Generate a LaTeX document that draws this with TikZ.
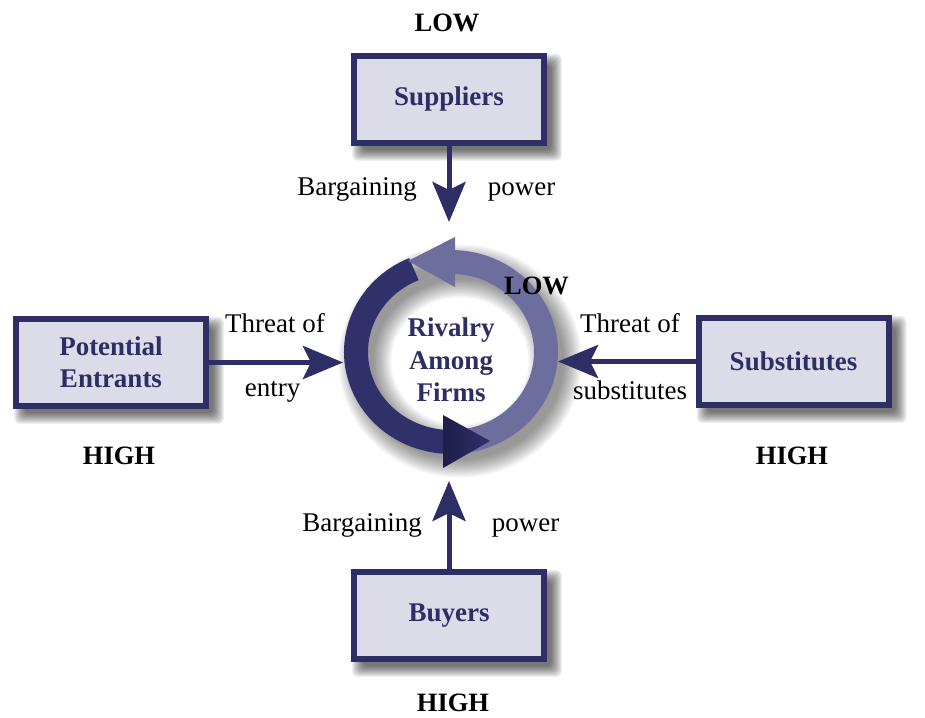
\documentclass[tikz,border=0pt]{standalone}
\usepackage{fontspec}
\setmainfont{Liberation Serif}
\usetikzlibrary{arrows.meta,calc}
\pgfdeclarelayer{shadow}
\pgfsetlayers{shadow,main}
\definecolor{navy}{HTML}{2E2E66}
\definecolor{boxfill}{HTML}{DCDBE8}
\definecolor{ringdark}{HTML}{30306A}
\definecolor{ringdeep}{HTML}{1E1E48}
\definecolor{ringlight}{HTML}{6E6E9E}

\begin{document}
\begin{tikzpicture}[x=1pt,y=1pt,
  force/.style={draw=navy, fill=boxfill, line width=6pt, minimum width=190pt,
    minimum height=87pt, text=navy, align=center, inner sep=0pt,
    font=\fontsize{27}{32.5}\selectfont\bfseries},
  conn/.style={draw=navy, line width=5pt,
    -{Stealth[length=40pt,width=33pt,inset=8pt]}},
  lbl/.style={font=\fontsize{27}{32}\selectfont, anchor=base, inner sep=0pt},
  level/.style={font=\fontsize{26.5}{32}\selectfont\bfseries, anchor=base, inner sep=0pt},
  ringtext/.style={text=navy, align=center, inner sep=0pt,
    font=\fontsize{27}{32.5}\selectfont\bfseries},
]
\useasboundingbox (0,0) rectangle (925,717);

% the five forces
\node[force] (sup) at (449,617.5) {Suppliers};
\node[force] (pe)  at (111,354.5) {Potential\\Entrants};
\node[force] (sub) at (793.5,355.5) {Substitutes};
\node[force] (buy) at (449,101.5) {Buyers};

% soft drop shadows behind the boxes and the ring
\coordinate (rc) at (451,365);
\begin{pgfonlayer}{shadow}
  \fill[white] (0,0) rectangle (925,717);
  \foreach \n in {sup,pe,sub,buy}{
    \foreach \k in {-4,...,7}{
      \fill[black, opacity=0.06, rounded corners=5pt]
        ($(\n.south west)+(8-\k,-8-\k)$) rectangle ($(\n.north east)+(8+\k,-8+\k)$);
    }
  }
  \foreach \k in {0,...,10}{
    \draw[black, opacity=0.045, line width={18+3.5*\k}]
      ($(rc)+(9,-9)$) ellipse [x radius=95, y radius=90];
  }
\end{pgfonlayer}

% rivalry cycle
\draw[ringdark, line width=24pt]
  ($(rc)+(113:95 and 90)$) arc[start angle=113, end angle=266, x radius=95, y radius=90];
\draw[ringlight, line width=24pt]
  ($(rc)+(-92:95 and 90)$) arc[start angle=-92, end angle=88, x radius=95, y radius=90];
\shade[left color=ringdeep, right color=ringdark]
  (443,302) -- (490,276) -- (443,249) -- cycle;
\fill[ringlight] (455,480) -- (408,456) -- (455,430) -- cycle;
\node[ringtext] (rivalry) at (451,357) {Rivalry\\Among\\Firms};

% forces acting on the rivalry
\coordinate (tipS) at (449,495);
\coordinate (tipE) at (343,354.5);
\coordinate (tipW) at (558,355.5);
\coordinate (tipB) at (449,236);
\draw[conn] (sup) -- (tipS);
\draw[conn] (pe)  -- (tipE);
\draw[conn] (sub) -- (tipW);
\draw[conn] (buy) -- (tipB);

% connector labels
\node[lbl] (bargS)  at (357,521)   {Bargaining};
\node[lbl] (powS)   at (521.5,521) {power};
\node[lbl] (thrE)   at (275,384)   {Threat of};
\node[lbl] (entry)  at (272.5,320) {entry};
\node[lbl] (thrW)   at (630,384)   {Threat of};
\node[lbl] (substW) at (630,317)   {substitutes};
\node[lbl] (bargB)  at (362,185)   {Bargaining};
\node[lbl] (powB)   at (525.5,185) {power};

% force levels
\node[level] (lowS)  at (447,685)   {LOW};
\node[level] (lowR)  at (536.5,422) {LOW};
\node[level] (highE) at (119,252)   {HIGH};
\node[level] (highW) at (792,252)   {HIGH};
\node[level] (highB) at (453,6)     {HIGH};
\end{tikzpicture}
\end{document}
